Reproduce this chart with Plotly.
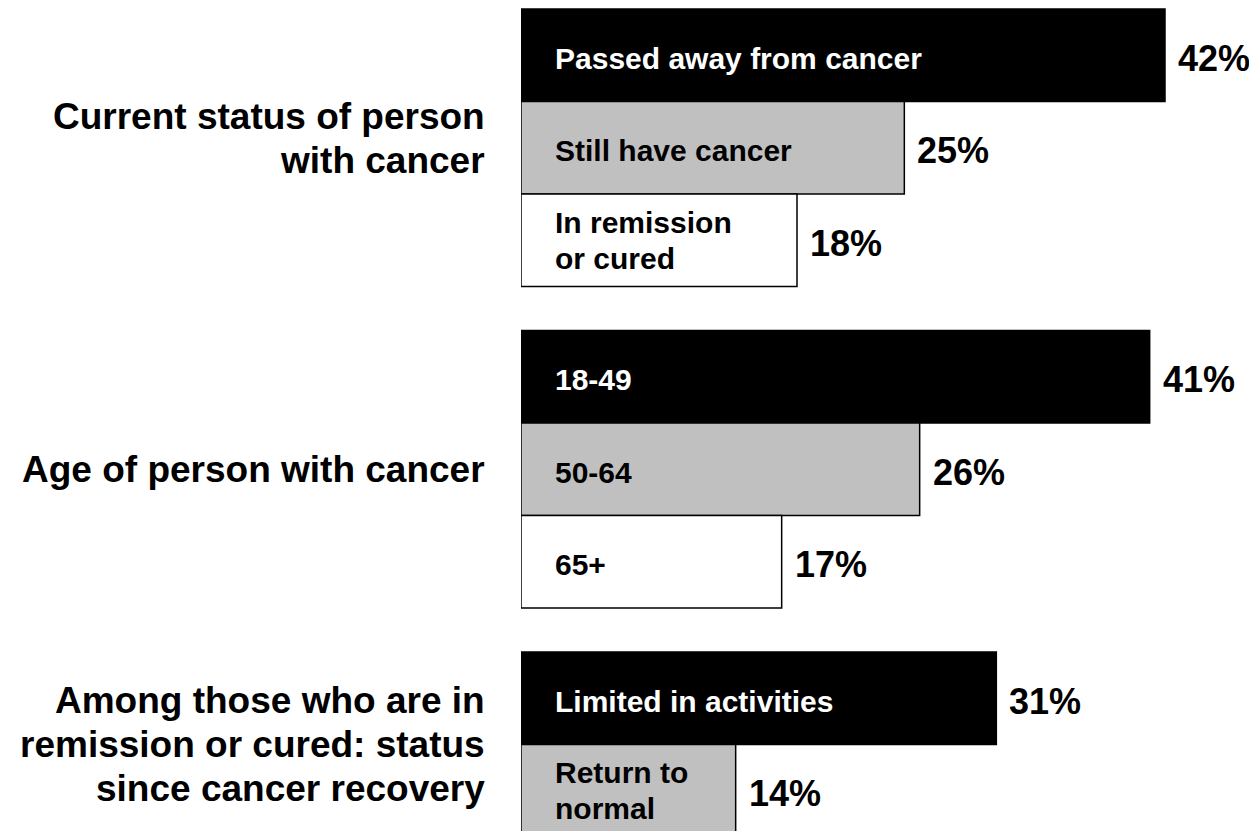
import plotly.graph_objects as go

# values (percent of respondents)
group_titles = [
    "Current status of person<br>with cancer",
    "Age of person with cancer",
    "Among those who are in<br>remission or cured: status<br>since cancer recovery",
]
status_labels = ["Passed away from cancer", "Still have cancer", "In remission<br>or cured"]
status_values = [42, 25, 18]
age_labels = ["18-49", "50-64", "65+"]
age_values = [41, 26, 17]
recovery_labels = ["Limited in activities", "Return to<br>normal"]
recovery_values = [31, 14]

groups = [
    (status_labels, status_values),
    (age_labels, age_values),
    (recovery_labels, recovery_values),
]

FONT = "Liberation Sans, Arial, sans-serif"
fills = ["#000000", "#c0c0c0", "#ffffff"]
text_colors = ["#ffffff", "#000000", "#000000"]
group_step = 3.476  # 3 bar rows plus the gap between blocks


def multiline(text, x, y, xref, size, color, xanchor, xshift, yshift, gap):
    # one annotation per line so the line spacing can be set
    lines = text.split("<br>")
    mid = (len(lines) - 1) / 2
    out = []
    for k, line in enumerate(lines):
        out.append(dict(
            x=x, y=y, xref=xref, yref="y", text=line, showarrow=False,
            xanchor=xanchor, yanchor="middle", xshift=xshift,
            yshift=yshift + (mid - k) * gap,
            font=dict(family=FONT, size=size, color=color, weight="bold"),
        ))
    return out


ys, xs, colors = [], [], []
annotations = []
for g, (labels, values) in enumerate(groups):
    for i, (lab, val) in enumerate(zip(labels, values)):
        y = g * group_step + i
        ys.append(y)
        xs.append(val)
        colors.append(fills[i])
        # label inside the bar
        annotations += multiline(lab, 0, y, "x", 30, text_colors[i], "left", 32,
                                 -3 if "<br>" not in lab else 0, 36)
        # percent at the end of the bar
        annotations.append(dict(
            x=val, y=y, xref="x", yref="y", text=f"{val}%", showarrow=False,
            xanchor="left", yanchor="middle", xshift=11, yshift=-3,
            font=dict(family=FONT, size=36, color="#000000", weight="bold"),
        ))
    title_shift = 9 if g == 0 else 0
    annotations += multiline(group_titles[g], 0, g * group_step + (len(labels) - 1) / 2,
                             "paper", 37, "#000000", "right", -34, title_shift, 44)

fig = go.Figure(go.Bar(
    x=xs, y=ys, orientation="h", width=1,
    marker=dict(color=colors, line=dict(color="#000000", width=1.5)),
    hoverinfo="skip",
))

fig.update_layout(
    width=1249, height=823,
    margin=dict(l=513, r=0, t=0, b=0),
    paper_bgcolor="white", plot_bgcolor="white",
    showlegend=False,
    annotations=annotations,
)
fig.update_xaxes(visible=False, range=[0, 48.0])
fig.update_yaxes(visible=False, range=[8.386, -0.511])

fig.write_html("out.html")
